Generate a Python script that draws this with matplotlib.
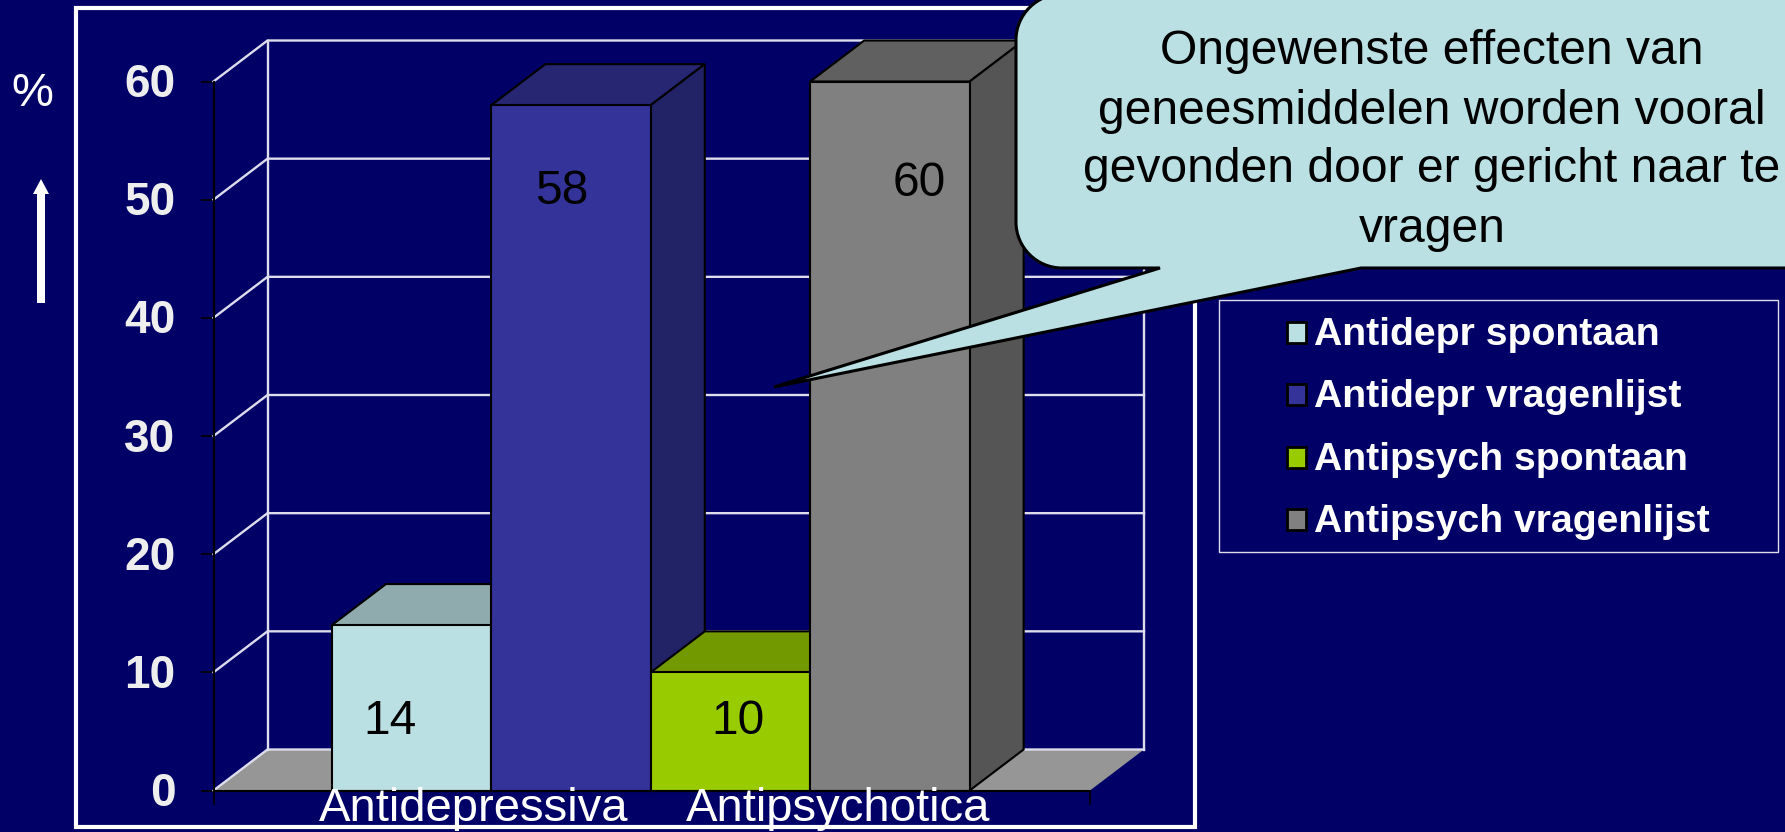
"""
Bijwerkingen chart: pseudo-3D bars on a slide background
"""

import matplotlib
matplotlib.use('Agg')
import matplotlib.pyplot as plt
from matplotlib.patches import Polygon, Rectangle, PathPatch
from matplotlib.path import Path
from matplotlib.transforms import ScaledTranslation

plt.rcParams['font.family'] = ['Liberation Sans', 'DejaVu Sans']

# data
series_names = ['Antidepr spontaan', 'Antidepr vragenlijst', 'Antipsych spontaan', 'Antipsych vragenlijst']
series_values = [14, 58, 10, 60]
categories = ['Antidepressiva', 'Antipsychotica']
y_ticks = [0, 10, 20, 30, 40, 50, 60]
callout_lines = ['Ongewenste effecten van', 'geneesmiddelen worden vooral', 'gevonden door er gericht naar te', 'vragen']

face_colors = ['#BBE0E3', '#333399', '#99CC00', '#808080']
top_colors = ['#90ABAD', '#262673', '#739900', '#606060']
side_colors = ['#7F9A9C', '#222266', '#668800', '#555555']

BG = '#000066'
GRID = '#DDDDEE'
W, H = 1785, 832

fig = plt.figure(figsize=(W / 100, H / 100), dpi=100, facecolor=BG)

# plot box in pixels
px_left, px_right, px_top, px_bottom = 213.5, 1090, 81.5, 790.5
ax = fig.add_axes([px_left / W, 1 - px_bottom / H, (px_right - px_left) / W, (px_bottom - px_top) / H])
ax.patch.set_visible(False)
ax.set_xlim(-0.743, 4.755)
ax.set_ylim(0, 60)
ax.set_zorder(1)
for s in ax.spines.values():
    s.set_visible(False)

x_unit = (px_right - px_left) / (ax.get_xlim()[1] - ax.get_xlim()[0])
y_unit = (px_bottom - px_top) / 60
depth_x = 54 / x_unit
depth_y = 41 / y_unit
x0, x1 = ax.get_xlim()

# floor and walls
ax.add_patch(Polygon([(x0, 0), (x1, 0), (x1 + depth_x, depth_y), (x0 + depth_x, depth_y)],
                     closed=True, fc='#969696', ec='none', clip_on=False, zorder=1))
for v in y_ticks:
    ax.plot([x0, x0 + depth_x, x1 + depth_x], [v, v + depth_y, v + depth_y], color=GRID, lw=1.7,
            clip_on=False, zorder=2, solid_joinstyle='miter')
for xx in [x0 + depth_x, x1 + depth_x]:
    ax.plot([xx, xx], [depth_y, 60 + depth_y], color=GRID, lw=1.7, clip_on=False, zorder=2)

# bars, drawn left to right so that each one covers the side of the one before
for i, val in enumerate(series_values):
    z = 3 + i
    ax.add_patch(Polygon([(i, val), (i + depth_x, val + depth_y), (i + 1 + depth_x, val + depth_y), (i + 1, val)],
                         closed=True, fc=top_colors[i], ec='black', lw=1.5, clip_on=False, zorder=z))
    ax.add_patch(Polygon([(i + 1, 0), (i + 1 + depth_x, depth_y), (i + 1 + depth_x, val + depth_y), (i + 1, val)],
                         closed=True, fc=side_colors[i], ec='black', lw=1.5, clip_on=False, zorder=z))
    ax.bar(i, val, width=1, align='edge', color=face_colors[i], edgecolor='black', lw=1.5, zorder=z, clip_on=False)

# axis lines
ax.plot([x0, x0], [0, 60], color='black', lw=1.5, clip_on=False, zorder=8)
ax.plot([x0, x1], [0, 0], color='black', lw=1.5, clip_on=False, zorder=8)
ax.set_yticks(y_ticks)
ax.set_yticklabels(y_ticks, fontsize=33, fontweight='bold', color='#EEEEEE')
ax.tick_params(axis='y', length=9.5, width=1.2, color='black', pad=18)
# tick labels sit a little above the tick in the original
for lab in ax.get_yticklabels():
    lab.set_transform(lab.get_transform() + ScaledTranslation(0, 1 / 72, fig.dpi_scale_trans))
ax.set_xticks([x0, x1])
ax.set_xticklabels([])
ax.tick_params(axis='x', length=10, width=1.2, color='black')

# overlay in pixel coordinates, for the slide furniture
page = fig.add_axes([0, 0, 1, 1])
page.set_xlim(0, W)
page.set_ylim(H, 0)
page.axis('off')
page.set_zorder(2)

page.add_patch(Rectangle((76, 8), 1119, 819, fc='none', ec='white', lw=3))

# value labels
label_pos = [(390, 722), (562, 192), (738, 722), (919, 184)]
for (lx, ly), val in zip(label_pos, series_values):
    page.text(lx, ly, str(val), fontsize=34.5, color='black', ha='center', va='center')

# category labels
for cx, name in zip([473.5, 838], categories):
    page.text(cx, 821, name, fontsize=34, color='white', ha='center', va='baseline')

# percent and arrow
page.text(32, 94, '%', fontsize=34, color='white', ha='center', va='center')
page.add_patch(Polygon([(37, 303), (45, 303), (45, 194), (49, 194), (41, 179), (33, 194), (37, 194)],
                       closed=True, fc='white', ec='none'))

# legend
page.add_patch(Rectangle((1219, 300), 559, 252, fc='none', ec='#DDDDEE', lw=1))
for y_row, name, col in zip([333, 395, 458, 520], series_names, face_colors):
    page.add_patch(Rectangle((1287, y_row - 11), 19, 21, fc=col, ec='black', lw=2))
    page.text(1314, y_row + 2, name, fontsize=28.2, fontweight='bold', color='white', ha='left', va='center')

# callout with pointer
left, right, top, bottom, r = 1016, 1830, -6, 268, 46
k = r * 0.45
verts = [(left + r, top), (right, top), (right, bottom), (1361, bottom), (774, 387), (1160, bottom),
         (left + r, bottom), (left + k, bottom), (left, bottom - k), (left, bottom - r),
         (left, top + r), (left, top + k), (left + k, top), (left + r, top)]
codes = [Path.MOVETO, Path.LINETO, Path.LINETO, Path.LINETO, Path.LINETO, Path.LINETO,
         Path.LINETO, Path.CURVE4, Path.CURVE4, Path.CURVE4,
         Path.LINETO, Path.CURVE4, Path.CURVE4, Path.CURVE4]
page.add_patch(PathPatch(Path(verts, codes), fc='#BBE0E3', ec='black', lw=2.2, joinstyle='miter'))
for y_line, line in zip([51, 111, 170, 229], callout_lines):
    page.text(1432, y_line, line, fontsize=34.6, color='black', ha='center', va='center')

fig.savefig('out.png', dpi=100, facecolor=BG)
